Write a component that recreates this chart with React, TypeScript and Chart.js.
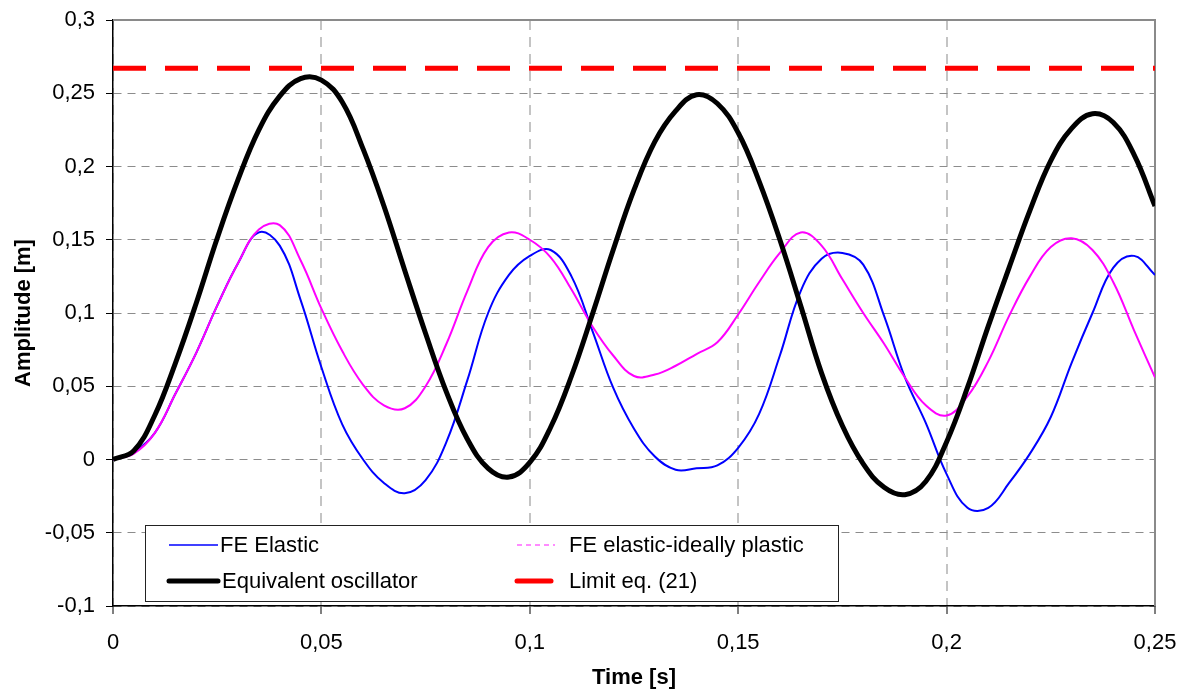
import React, { useEffect, useRef } from 'react';
import { Chart, registerables } from 'chart.js';

Chart.register(...registerables);

// Time axis samples [s]
const TIME = [
  0, 0.005, 0.01, 0.015, 0.02, 0.025, 0.03, 0.035, 0.04, 0.045,
  0.05, 0.055, 0.06, 0.065, 0.07, 0.075, 0.08, 0.085, 0.09, 0.095,
  0.1, 0.105, 0.11, 0.115, 0.12, 0.125, 0.13, 0.135, 0.14, 0.145,
  0.15, 0.155, 0.16, 0.165, 0.17, 0.175, 0.18, 0.185, 0.19, 0.195,
  0.2, 0.205, 0.21, 0.215, 0.22, 0.225, 0.23, 0.235, 0.24, 0.245, 0.25,
];

// FE Elastic [m]
const FE_ELASTIC = [
  0, 0.005, 0.018, 0.045, 0.073, 0.105, 0.134, 0.155, 0.146, 0.109,
  0.063, 0.024, 0.0, -0.016, -0.023, -0.014, 0.012, 0.054, 0.1, 0.126,
  0.139, 0.143, 0.125, 0.088, 0.049, 0.021, 0.002, -0.007, -0.006, -0.004,
  0.008, 0.031, 0.071, 0.115, 0.137, 0.141, 0.133, 0.098, 0.056, 0.025,
  -0.01, -0.033, -0.033, -0.016, 0.004, 0.029, 0.066, 0.1, 0.131, 0.139, 0.126,
];

// FE elastic-ideally plastic [m]
const FE_PLASTIC = [
  0, 0.004, 0.018, 0.045, 0.073, 0.105, 0.134, 0.157, 0.16, 0.136,
  0.103, 0.074, 0.051, 0.037, 0.035, 0.05, 0.079, 0.115, 0.145, 0.155,
  0.15, 0.138, 0.116, 0.091, 0.071, 0.057, 0.058, 0.064, 0.072, 0.08,
  0.099, 0.121, 0.141, 0.155, 0.146, 0.123, 0.1, 0.079, 0.056, 0.037,
  0.03, 0.043, 0.067, 0.098, 0.125, 0.145, 0.151, 0.143, 0.121, 0.088, 0.056,
];

// Equivalent oscillator [m]
const EQUIV_OSC = [
  0, 0.006, 0.03, 0.066, 0.107, 0.151, 0.191, 0.225, 0.248, 0.26,
  0.259, 0.244, 0.212, 0.173, 0.129, 0.086, 0.046, 0.014, -0.006, -0.012,
  -0.002, 0.022, 0.057, 0.099, 0.143, 0.184, 0.217, 0.238, 0.249, 0.243,
  0.223, 0.19, 0.15, 0.105, 0.059, 0.023, -0.003, -0.019, -0.024, -0.015,
  0.012, 0.049, 0.091, 0.131, 0.17, 0.204, 0.226, 0.236, 0.23, 0.208, 0.173,
];

// Limit eq. (21)
const LIMIT_X = [0, 0.25];
const LIMIT_Y = [0.267, 0.267];

const X_TICKS = [0, 0.05, 0.1, 0.15, 0.2, 0.25];
const X_TICK_LABELS = ['0', '0,05', '0,1', '0,15', '0,2', '0,25'];
const Y_TICKS = [-0.1, -0.05, 0, 0.05, 0.1, 0.15, 0.2, 0.25, 0.3];
const Y_TICK_LABELS = ['-0,1', '-0,05', '0', '0,05', '0,1', '0,15', '0,2', '0,25', '0,3'];

const SERIES_NAMES = ['FE Elastic', 'FE elastic-ideally plastic', 'Equivalent oscillator', 'Limit eq. (21)'];

const FONT = '"Liberation Sans", Arial, Helvetica, sans-serif';

const frameAndLegend = {
  id: 'frameAndLegend',
  beforeDatasetsDraw(chart: any) {
    const { ctx, chartArea: ca } = chart;
    ctx.save();
    ctx.strokeStyle = '#8a8a8a';
    ctx.lineWidth = 2;
    ctx.beginPath();
    ctx.moveTo(ca.left, ca.top);
    ctx.lineTo(ca.right, ca.top);
    ctx.lineTo(ca.right, ca.bottom);
    ctx.stroke();
    ctx.restore();
  },
  afterDraw(chart: any) {
    const { ctx, chartArea: ca } = chart;
    const x0 = ca.left + 32;
    const y0 = ca.bottom - 81;
    const w = 693;
    const h = 76;
    ctx.save();
    ctx.fillStyle = '#ffffff';
    ctx.fillRect(x0, y0, w, h);
    ctx.strokeStyle = '#222';
    ctx.lineWidth = 1;
    ctx.strokeRect(x0 + 0.5, y0 + 0.5, w, h);

    const items = [
      { label: SERIES_NAMES[0], color: '#0000ff', width: 1.5, dash: [] as number[], sx: 24, ex: 73, tx: 75, ty: 20 },
      { label: SERIES_NAMES[1], color: '#ff66ff', width: 1.5, dash: [5, 4], sx: 372, ex: 410, tx: 424, ty: 20 },
      { label: SERIES_NAMES[2], color: '#000000', width: 5, dash: [] as number[], sx: 24, ex: 73, tx: 77, ty: 56 },
      { label: SERIES_NAMES[3], color: '#ff0000', width: 5, dash: [] as number[], sx: 372, ex: 406, tx: 424, ty: 56 },
    ];
    ctx.font = `22px ${FONT}`;
    ctx.textBaseline = 'middle';
    ctx.textAlign = 'left';
    for (const it of items) {
      ctx.beginPath();
      ctx.strokeStyle = it.color;
      ctx.lineWidth = it.width;
      ctx.setLineDash(it.dash);
      ctx.lineCap = it.width > 3 ? 'round' : 'butt';
      ctx.moveTo(x0 + it.sx, y0 + it.ty);
      ctx.lineTo(x0 + it.ex, y0 + it.ty);
      ctx.stroke();
      ctx.setLineDash([]);
      ctx.fillStyle = '#000';
      ctx.fillText(it.label, x0 + it.tx, y0 + it.ty + 1);
    }
    ctx.restore();
  },
};

export default function App() {
  const canvasRef = useRef<HTMLCanvasElement | null>(null);

  useEffect(() => {
    const canvas = canvasRef.current;
    if (!canvas) return;
    const toPts = (ys: number[]) => TIME.map((t, i) => ({ x: t, y: ys[i] }));

    const chart = new Chart(canvas, {
      type: 'line',
      data: {
        datasets: [
          {
            label: SERIES_NAMES[3],
            data: LIMIT_X.map((x, i) => ({ x, y: LIMIT_Y[i] })),
            borderColor: '#ff0000',
            borderWidth: 5,
            borderDash: [33, 19],
            borderCapStyle: 'butt',
            pointRadius: 0,
            tension: 0,
            order: 0,
          },
          {
            label: SERIES_NAMES[2],
            data: toPts(EQUIV_OSC),
            borderColor: '#000000',
            borderWidth: 5,
            pointRadius: 0,
            tension: 0.4,
            order: 1,
          },
          {
            label: SERIES_NAMES[1],
            data: toPts(FE_PLASTIC),
            borderColor: '#ff00ff',
            borderWidth: 2,
            pointRadius: 0,
            tension: 0.4,
            order: 2,
          },
          {
            label: SERIES_NAMES[0],
            data: toPts(FE_ELASTIC),
            borderColor: '#0000ff',
            borderWidth: 2,
            pointRadius: 0,
            tension: 0.4,
            order: 3,
          },
        ],
      },
      options: {
        animation: false,
        responsive: true,
        maintainAspectRatio: false,
        layout: { padding: { left: 0, right: 26, top: 20, bottom: 0 } },
        plugins: {
          legend: { display: false },
          tooltip: { enabled: false },
        },
        scales: {
          x: {
            type: 'linear',
            min: 0,
            max: 0.25,
            afterBuildTicks: (s: any) => {
              s.ticks = X_TICKS.map((v) => ({ value: v }));
            },
            afterFit: (s: any) => {
              s.height = 85;
              s.paddingLeft = 0;
              s.paddingRight = 0;
            },
            grid: {
              color: '#c4c4c4',
              lineWidth: 2,
              drawTicks: true,
              tickLength: 8,
              tickColor: '#000',
              tickWidth: 1,
            },
            border: { display: true, color: '#000', width: 1.5, dash: [10, 7] },
            ticks: {
              autoSkip: false,
              maxRotation: 0,
              padding: 16,
              color: '#000',
              font: { family: FONT, size: 22 },
              callback: (_v: any, i: number) => X_TICK_LABELS[i],
            },
            title: {
              display: true,
              text: 'Time [s]',
              color: '#000',
              font: { family: FONT, size: 22, weight: 'bold' },
              padding: { top: 0, bottom: 0 },
            },
          },
          y: {
            type: 'linear',
            min: -0.1,
            max: 0.3,
            afterBuildTicks: (s: any) => {
              s.ticks = Y_TICKS.map((v) => ({ value: v }));
            },
            afterFit: (s: any) => {
              s.width = 113;
              s.paddingTop = 0;
              s.paddingBottom = 0;
            },
            grid: {
              color: '#8c8c8c',
              lineWidth: 1,
              drawTicks: true,
              tickLength: 7,
              tickColor: '#000',
              tickWidth: 1,
            },
            border: { display: true, color: '#000', width: 1.5, dash: [8, 6] },
            ticks: {
              autoSkip: false,
              padding: 11,
              color: '#000',
              font: { family: FONT, size: 22 },
              callback: (_v: any, i: number) => Y_TICK_LABELS[i],
            },
            title: {
              display: true,
              text: 'Amplitude [m]',
              color: '#000',
              font: { family: FONT, size: 22, weight: 'bold' },
              padding: { top: 11, bottom: 0 },
            },
          },
        },
      } as any,
      plugins: [frameAndLegend],
    });

    return () => {
      chart.destroy();
    };
  }, []);

  return (
    <div style={{ position: 'fixed', left: 0, top: 0, width: 1181, height: 691, background: '#fff' }}>
      <canvas ref={canvasRef} />
    </div>
  );
}
